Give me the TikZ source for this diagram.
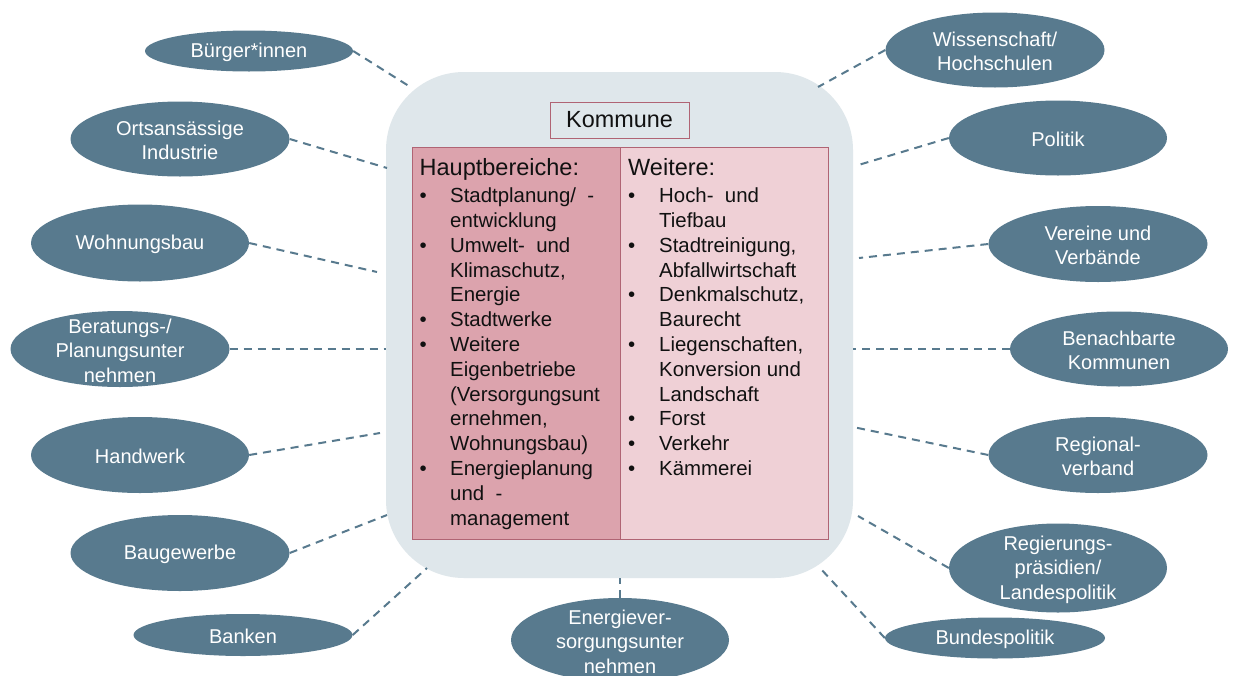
\documentclass[tikz,border=0pt]{standalone}
\usepackage{fontspec}
\setmainfont{Liberation Sans}
\usetikzlibrary{shapes.geometric}
\definecolor{ellfill}{HTML}{587A8E}
\definecolor{linecol}{HTML}{587A8E}
\definecolor{bigbg}{HTML}{DFE7EB}
\definecolor{leftfill}{HTML}{DCA3AD}
\definecolor{rightfill}{HTML}{EFD0D6}
\definecolor{tabborder}{HTML}{B06474}
\definecolor{txt}{HTML}{111111}
\tikzset{
  ell/.style={ellipse, fill=ellfill, draw=none, inner sep=0pt},
  elltext/.style={text=white, align=center, inner sep=0pt, yshift=-1.5pt, font=\fontsize{20}{24.5}\selectfont},
  conn/.style={draw=linecol, line width=2pt, dash pattern=on 8pt off 6pt},
  colbox/.style={draw=tabborder, line width=1pt, inner sep=0pt},
}
\newcommand{\itm}{\textbullet}
\begin{document}
\begin{tikzpicture}[x=1pt,y=-1pt]
\useasboundingbox (0,0) rectangle (1233,675);
\fill[white] (0,0) rectangle (1233,675);

% big rounded background
\node[fill=bigbg, rounded corners=78pt, minimum width=467pt, minimum height=506pt, inner sep=0pt] (big) at (619.5,325) {};

% Kommune box
\node[draw=tabborder, line width=1pt, fill=bigbg, minimum width=139pt, minimum height=36pt, inner sep=0pt,
      font=\fontsize{23.4}{28}\selectfont, text=txt] (kom) at (619.5,120) {Kommune};

% table columns
\node[colbox, fill=leftfill, minimum width=208pt, minimum height=392pt, anchor=north west] (lbox) at (412,147) {};
\node[colbox, fill=rightfill, minimum width=208pt, minimum height=392pt, anchor=north west] (rbox) at (620,147) {};

\node[anchor=base west, inner sep=0pt, text=txt] (ltext) at (419.5,175.5) {\fontsize{20.4}{24.8}\selectfont
\begin{tabular}[t]{@{}p{30.5pt}@{}l@{}}
\multicolumn{2}{@{}l@{}}{\fontsize{23.5}{28}\selectfont Hauptbereiche:}\\[2.3pt]
\itm & Stadtplanung/\ \ -\\
 & entwicklung\\
\itm & Umwelt-\ \ und\\
 & Klimaschutz,\\
 & Energie\\
\itm & Stadtwerke\\
\itm & Weitere\\
 & Eigenbetriebe\\
 & (Versorgungsunt\\
 & ernehmen,\\
 & Wohnungsbau)\\
\itm & Energieplanung\\
 & und\ \ -\\
 & management
\end{tabular}};

\node[anchor=base west, inner sep=0pt, text=txt] (rtext) at (628,175.5) {\fontsize{20.4}{24.8}\selectfont
\begin{tabular}[t]{@{}p{31pt}@{}l@{}}
\multicolumn{2}{@{}l@{}}{\fontsize{23.5}{28}\selectfont Weitere:}\\[2.3pt]
\itm & Hoch-\ \ und\\
 & Tiefbau\\
\itm & Stadtreinigung,\\
 & Abfallwirtschaft\\
\itm & Denkmalschutz,\\
 & Baurecht\\
\itm & Liegenschaften,\\
 & Konversion und\\
 & Landschaft\\
\itm & Forst\\
\itm & Verkehr\\
\itm & Kämmerei
\end{tabular}};

% left ellipses
\node[ell, minimum width=208pt, minimum height=41pt] (b1) at (249,51) {};
\node[elltext] (b1t) at (b1) {Bürger*innen};
\node[ell, minimum width=219pt, minimum height=75pt] (b2) at (180,139) {};
\node[elltext] (b2t) at (b2) {Ortsansässige\\Industrie};
\node[ell, minimum width=218pt, minimum height=77pt] (b3) at (140,243) {};
\node[elltext] (b3t) at (b3) {Wohnungsbau};
\node[ell, minimum width=219pt, minimum height=76pt] (b4) at (120,349) {};
\node[elltext] (b4t) at (b4) {Beratungs-/\\Planungsunter\\nehmen};
\node[ell, minimum width=218pt, minimum height=76pt] (b5) at (140,455) {};
\node[elltext] (b5t) at (b5) {Handwerk};
\node[ell, minimum width=219pt, minimum height=76pt] (b6) at (180,553) {};
\node[elltext] (b6t) at (b6) {Baugewerbe};
\node[ell, minimum width=219pt, minimum height=42pt] (b7) at (243,635) {};
\node[elltext] (b7t) at (b7) {Banken};
% bottom
\node[ell, minimum width=218pt, minimum height=84pt] (b8) at (620,640) {};
\node[elltext] (b8t) at (b8) {Energiever-\\sorgungsunter\\nehmen};
% right ellipses
\node[ell, minimum width=219pt, minimum height=75pt] (r1) at (995,50) {};
\node[elltext] (r1t) at (r1) {Wissenschaft/\\Hochschulen};
\node[ell, minimum width=218pt, minimum height=75pt] (r2) at (1058,138) {};
\node[elltext] (r2t) at (r2) {Politik};
\node[ell, minimum width=219pt, minimum height=76pt] (r3) at (1098,244) {};
\node[elltext] (r3t) at (r3) {Vereine und\\Verbände};
\node[ell, minimum width=218pt, minimum height=75pt] (r4) at (1119,349) {};
\node[elltext] (r4t) at (r4) {Benachbarte\\Kommunen};
\node[ell, minimum width=219pt, minimum height=76pt] (r5) at (1098,455) {};
\node[elltext] (r5t) at (r5) {Regional-\\verband};
\node[ell, minimum width=218pt, minimum height=89pt] (r6) at (1058,568) {};
\node[elltext] (r6t) at (r6) {Regierungs-\\präsidien/\\Landespolitik};
\node[ell, minimum width=220pt, minimum height=41pt] (r7) at (995,638) {};
\node[elltext] (r7t) at (r7) {Bundespolitik};

% connector end points on the big box
\coordinate (c1) at (412,88);
\coordinate (c2) at (387,168);
\coordinate (c3) at (377,272);
\coordinate (c4) at (386,349);
\coordinate (c5) at (380,433);
\coordinate (c6) at (387,515);
\coordinate (c7) at (427,568);
\coordinate (c8) at (620,578);
\coordinate (d1) at (818,87);
\coordinate (d2) at (855,166);
\coordinate (d3) at (859,258);
\coordinate (d4) at (853,349);
\coordinate (d5) at (853,427);
\coordinate (d6) at (858,516);
\coordinate (d7) at (820,568);

\draw[conn] (b1.east) -- (c1);
\draw[conn] (b2.east) -- (c2);
\draw[conn] (b3.east) -- (c3);
\draw[conn] (b4.east) -- (c4);
\draw[conn] (b5.east) -- (c5);
\draw[conn] (b6.east) -- (c6);
\draw[conn] (b7.east) -- (c7);
\draw[conn] (b8.north) -- (c8);
\draw[conn] (r1.west) -- (d1);
\draw[conn] (r2.west) -- (d2);
\draw[conn] (r3.west) -- (d3);
\draw[conn] (r4.west) -- (d4);
\draw[conn] (r5.west) -- (d5);
\draw[conn] (r6.west) -- (d6);
\draw[conn] (r7.west) -- (d7);
\end{tikzpicture}
\end{document}
